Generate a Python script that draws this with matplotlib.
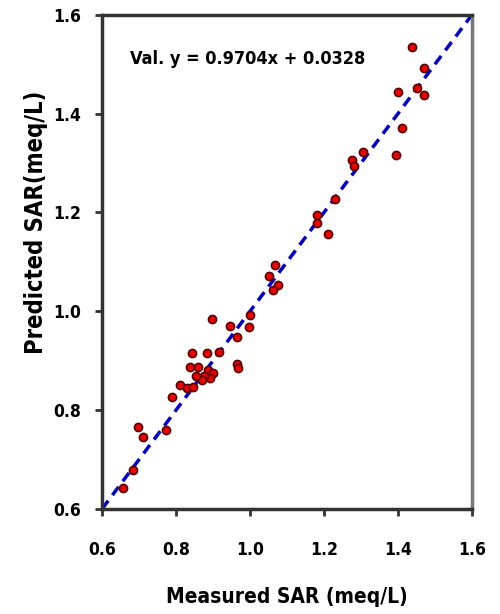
import matplotlib
matplotlib.use('Agg')
import matplotlib.pyplot as plt

# measured vs predicted SAR (meq/L)
measured = [1.438, 1.470, 1.400, 1.451, 1.470, 1.411, 1.395, 1.305, 1.276, 1.282,
            1.230, 1.181, 1.181, 1.211, 1.068, 1.052, 1.076, 1.062, 1.000, 0.997,
            0.946, 0.965, 0.897, 0.916, 0.884, 0.843, 0.965, 0.968, 0.838, 0.860,
            0.886, 0.900, 0.892, 0.811, 0.829, 0.846, 0.789, 0.697, 0.711, 0.773,
            0.684, 0.657, 0.875, 0.870, 0.855]
predicted = [1.535, 1.493, 1.444, 1.452, 1.438, 1.371, 1.317, 1.323, 1.306, 1.294,
             1.228, 1.195, 1.179, 1.157, 1.094, 1.072, 1.053, 1.043, 0.993, 0.968,
             0.970, 0.948, 0.985, 0.918, 0.916, 0.916, 0.893, 0.885, 0.887, 0.887,
             0.881, 0.875, 0.865, 0.851, 0.845, 0.847, 0.827, 0.766, 0.746, 0.760,
             0.679, 0.643, 0.870, 0.862, 0.870]
ticks = [0.6, 0.8, 1.0, 1.2, 1.4, 1.6]
eq_text = 'Val. y = 0.9704x + 0.0328'

plt.rcParams['font.family'] = ['DejaVu Sans']
plt.rcParams['font.stretch'] = 'condensed'
plt.rcParams['font.weight'] = 'bold'

fig = plt.figure(figsize=(5, 6.14), dpi=100)
ax = fig.add_axes([0.204, 0.171, 0.740, 0.805])

# 1:1 line
ax.plot([ticks[0], ticks[-1]], [ticks[0], ticks[-1]], color='#0000cc',
        linestyle='--', linewidth=2.5, dashes=(3, 2), zorder=2)
ax.scatter(measured, predicted, s=34, color='#ee0000', edgecolors='#550000',
           linewidths=1.2, zorder=3)

ax.text(0.676, 1.51, eq_text, fontsize=13, fontweight='bold', va='center')

ax.set_xlim(ticks[0], ticks[-1])
ax.set_ylim(ticks[0], ticks[-1])
ax.set_xticks(ticks)
ax.set_yticks(ticks)
ax.set_xticklabels([f'{t:.1f}' for t in ticks])
ax.set_yticklabels([f'{t:.1f}' for t in ticks])
ax.tick_params(direction='out', length=5, width=2, labelsize=12.5, color='#333333')
ax.tick_params(axis='x', pad=18)
ax.tick_params(axis='y', pad=10)

for side in ['left', 'bottom', 'top']:
    ax.spines[side].set_linewidth(2.5)
    ax.spines[side].set_color('#333333')
ax.spines['right'].set_linewidth(2.5)
ax.spines['right'].set_color('#777777')

ax.set_xlabel('Measured SAR (meq/L)', fontsize=15, fontweight='bold', labelpad=20)
ax.set_ylabel('Predicted SAR(meq/L)', fontsize=17, fontweight='bold')
ax.yaxis.set_label_coords(-0.145, 0.58)

fig.savefig('out.png', dpi=100)
